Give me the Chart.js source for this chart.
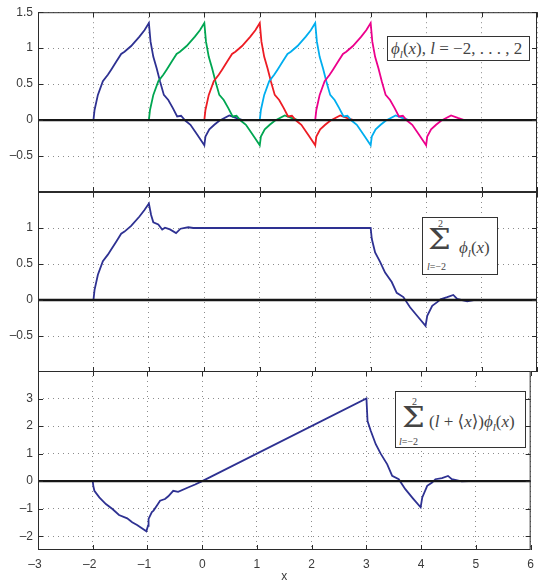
<!DOCTYPE html>
<html><head><meta charset="utf-8">
<script src="https://cdn.jsdelivr.net/npm/chart.js@4.4.0/dist/chart.umd.min.js"></script>
<style>
html,body{margin:0;padding:0;background:#fff;}
#wrap{position:relative;width:541px;height:584px;overflow:hidden;background:#fff;}
canvas{position:absolute;left:0;top:0;}
.lg{position:absolute;z-index:5;background:#fff;border:1px solid #333;box-sizing:border-box;font-family:"Liberation Serif","Times New Roman","DejaVu Serif",serif;color:#444;}
.lg span{position:absolute;white-space:nowrap;line-height:1;}
.it{font-style:italic;}
.sub{font-size:11px;position:relative;top:4px;font-style:italic;}
.sig{font-family:"DejaVu Serif",serif;transform-origin:0 0;transform:scale(1.15,1);}
</style></head>
<body><div id="wrap">
<canvas id="c1" width="541" height="584"></canvas>
<canvas id="c2" width="541" height="584"></canvas>
<canvas id="c3" width="541" height="584"></canvas>
<div class="lg" style="left:387px;top:36px;width:143px;height:25px;">
  <span style="left:3px;top:3px;font-size:17px;"><span class="it" style="position:static">ϕ</span><span class="sub" style="position:relative">l</span>(<span class="it" style="position:static">x</span>), <span class="it" style="position:static">l</span> = −2, . . . , 2</span>
</div>
<div class="lg" style="left:422px;top:217px;width:76px;height:58px;">
  <span style="left:15px;top:1px;font-size:10px;">2</span>
  <span class="sig" style="left:5px;top:8px;font-size:28px;">Σ</span>
  <span style="left:4px;top:44px;font-size:10px;"><span class="it" style="position:static">l</span>=−2</span>
  <span style="left:36px;top:21px;font-size:17px;"><span class="it" style="position:static">ϕ</span><span class="sub" style="position:relative">l</span>(<span class="it" style="position:static">x</span>)</span>
</div>
<div class="lg" style="left:395px;top:391px;width:131px;height:57px;">
  <span style="left:16px;top:5px;font-size:10px;">2</span>
  <span class="sig" style="left:6px;top:12px;font-size:28px;">Σ</span>
  <span style="left:3px;top:45px;font-size:10px;"><span class="it" style="position:static">l</span>=−2</span>
  <span style="left:33px;top:21px;font-size:17px;">(<span class="it" style="position:static">l</span> + ⟨<span class="it" style="position:static">x</span>⟩)<span class="it" style="position:static">ϕ</span><span class="sub" style="position:relative">l</span>(<span class="it" style="position:static">x</span>)</span>
</div>
</div>
<script>
// ---- data ----
const xTicks = [-3, -2, -1, 0, 1, 2, 3, 4, 5, 6];
const yTicksTop = [-0.5, 0, 0.5, 1, 1.5];
const yTicksMid = [-0.5, 0, 0.5, 1];
const yTicksBot = [-2, -1, 0, 1, 2, 3];

// phi_l(x) values (same shape for every l)
const phiY = [0, 0, 0.14, 0.35, 0.54, 0.63, 0.70, 0.81, 0.92, 0.95, 1.03, 1.16, 1.25, 1.35, 1.09, 0.88, 0.72, 0.54, 0.35, 0.28, 0.17, 0.05, 0.06, -0.01, -0.065, -0.20, -0.35, -0.23, -0.13, -0.065, -0.01, 0.065, 0.03, 0, 0];
const phiXm2 = [-3, -2, -1.98, -1.92, -1.83, -1.74, -1.68, -1.59, -1.5, -1.44, -1.32, -1.17, -1.08, -1, -0.97, -0.92, -0.86, -0.8, -0.73, -0.65, -0.57, -0.49, -0.42, -0.34, -0.25, -0.13, 0, 0.02, 0.09, 0.18, 0.27, 0.45, 0.57, 0.69, 6];
const phiXm1 = [-3, -1, -0.98, -0.92, -0.83, -0.74, -0.68, -0.59, -0.5, -0.44, -0.32, -0.17, -0.08, 0, 0.03, 0.08, 0.14, 0.2, 0.27, 0.35, 0.43, 0.51, 0.58, 0.66, 0.75, 0.87, 1, 1.02, 1.09, 1.18, 1.27, 1.45, 1.57, 1.69, 6];
const phiX0 = [-3, 0, 0.02, 0.08, 0.17, 0.26, 0.32, 0.41, 0.5, 0.56, 0.68, 0.83, 0.92, 1, 1.03, 1.08, 1.14, 1.2, 1.27, 1.35, 1.43, 1.51, 1.58, 1.66, 1.75, 1.87, 2, 2.02, 2.09, 2.18, 2.27, 2.45, 2.57, 2.69, 6];
const phiX1 = [-3, 1, 1.02, 1.08, 1.17, 1.26, 1.32, 1.41, 1.5, 1.56, 1.68, 1.83, 1.92, 2, 2.03, 2.08, 2.14, 2.2, 2.27, 2.35, 2.43, 2.51, 2.58, 2.66, 2.75, 2.87, 3, 3.02, 3.09, 3.18, 3.27, 3.45, 3.57, 3.69, 6];
const phiX2 = [-3, 2, 2.02, 2.08, 2.17, 2.26, 2.32, 2.41, 2.5, 2.56, 2.68, 2.83, 2.92, 3, 3.03, 3.08, 3.14, 3.2, 3.27, 3.35, 3.43, 3.51, 3.58, 3.66, 3.75, 3.87, 4, 4.02, 4.09, 4.18, 4.27, 4.45, 4.57, 4.69, 6];

// sum_l phi_l(x)
const sumX = [-3, -2, -1.98, -1.92, -1.83, -1.74, -1.68, -1.59, -1.5, -1.44, -1.32, -1.17, -1.08, -1, -0.96, -0.92, -0.83, -0.76, -0.71, -0.62, -0.51, -0.43, -0.29, -0.2, 3, 3.02, 3.08, 3.17, 3.26, 3.38, 3.47, 3.59, 3.71, 3.86, 3.99, 4.02, 4.11, 4.2, 4.26, 4.38, 4.49, 4.56, 4.74, 4.86, 6];
const sumY = [0, 0, 0.14, 0.35, 0.54, 0.63, 0.70, 0.81, 0.92, 0.95, 1.03, 1.16, 1.25, 1.34, 1.18, 1.08, 1.05, 0.98, 1.005, 0.98, 0.93, 0.99, 1.01, 1.0, 1.0, 0.85, 0.66, 0.53, 0.38, 0.25, 0.10, 0.04, -0.10, -0.24, -0.36, -0.22, -0.08, -0.03, 0.01, 0.04, 0.07, 0.015, -0.02, 0, 0];

// sum_l (l + <x>) phi_l(x)
const wX = [-3, -2, -1.99, -1.97, -1.88, -1.76, -1.64, -1.52, -1.37, -1.28, -1.19, -1.02, -0.99, -0.98, -0.92, -0.89, -0.83, -0.77, -0.68, -0.62, -0.53, -0.44, -0.26, -0.13, 0, 3, 3.02, 3.08, 3.17, 3.26, 3.38, 3.47, 3.59, 3.71, 3.86, 3.99, 4.02, 4.11, 4.2, 4.26, 4.38, 4.49, 4.56, 4.74, 4.86, 6];
const wY = [0, 0, -0.17, -0.35, -0.59, -0.83, -1.01, -1.23, -1.35, -1.49, -1.59, -1.82, -1.62, -1.37, -1.12, -1.07, -0.89, -0.71, -0.65, -0.55, -0.35, -0.39, -0.23, -0.12, 0, 3, 2.18, 1.82, 1.34, 1.0, 0.61, 0.19, 0.07, -0.29, -0.65, -0.95, -0.59, -0.17, -0.05, 0.07, 0.11, 0.19, 0.07, -0.01, 0, 0];

const zeroX = [-3, 6];
const zeroY = [0, 0];

// ---- helpers ----
const pts = (xs, ys) => xs.map((x, i) => ({ x: x, y: ys[i] }));
const fmt = v => (v < 0 ? '\u2013' + String(Math.abs(v)) : String(v));
const tickFont = { family: '"Liberation Sans", Arial, Helvetica, sans-serif', size: 12 };
const tickColor = '#3a3a3a';

const boxPlugin = {
  id: 'box',
  afterDraw(chart) {
    const { ctx, chartArea: a } = chart;
    const xs = chart.scales.x, ys = chart.scales.y;
    ctx.save();
    ctx.strokeStyle = '#2b2b2b';
    ctx.lineWidth = 1;
    ctx.strokeRect(a.left + 0.5, a.top + 0.5, a.right - a.left - 1, a.bottom - a.top - 1);
    ctx.beginPath();
    xs.ticks.forEach(t => {
      const p = Math.round(xs.getPixelForValue(t.value)) + 0.5;
      ctx.moveTo(p, a.top); ctx.lineTo(p, a.top + 5);
      ctx.moveTo(p, a.bottom); ctx.lineTo(p, a.bottom - 5);
    });
    ys.ticks.forEach(t => {
      const p = Math.round(ys.getPixelForValue(t.value)) + 0.5;
      ctx.moveTo(a.left, p); ctx.lineTo(a.left + 5, p);
      ctx.moveTo(a.right, p); ctx.lineTo(a.right - 5, p);
    });
    ctx.stroke();
    ctx.restore();
  }
};

function line(xs, ys, color, width, order) {
  return { data: pts(xs, ys), borderColor: color, borderWidth: width, pointRadius: 0, fill: false, tension: 0, order: order };
}

function makeChart(id, padTop, padBottom, yMin, yMax, yTicks, datasets, bottom) {
  return new Chart(document.getElementById(id), {
    type: 'line',
    data: { datasets: datasets },
    plugins: [boxPlugin],
    options: {
      responsive: false,
      animation: false,
      layout: { padding: { top: padTop, bottom: padBottom, left: 0, right: 4 } },
      plugins: { legend: { display: false }, tooltip: { enabled: false } },
      scales: {
        x: {
          type: 'linear', min: -3, max: 6,
          afterBuildTicks: s => { s.ticks = xTicks.map(v => ({ value: v })); },
          afterFit: s => { s.height = bottom ? 34 : 0; },
          grid: { color: '#8c8c8c', lineWidth: 1, drawTicks: false, borderDash: [1, 4] },
          border: { display: false, dash: [1, 4] },
          ticks: { display: bottom, font: tickFont, color: tickColor, padding: 7, maxRotation: 0,
                   callback: v => (v < 0 ? fmt(v) + '\u2002' : fmt(v)) },
          title: { display: bottom, text: 'x', font: tickFont, color: tickColor, padding: { top: 0, bottom: 0 } }
        },
        y: {
          type: 'linear', min: yMin, max: yMax,
          afterBuildTicks: s => { s.ticks = yTicks.map(v => ({ value: v })); },
          afterFit: s => { s.width = 38; },
          grid: { color: '#8c8c8c', lineWidth: 1, drawTicks: false, borderDash: [1, 4] },
          border: { display: false, dash: [1, 4] },
          ticks: { font: tickFont, color: tickColor, padding: 5, callback: v => fmt(v) }
        }
      }
    }
  });
}

const blue = '#2e3192', green = '#00a651', red = '#ed1c24', cyan = '#00aeef', magenta = '#ec008c';

makeChart('c1', 12, 392, -1, 1.5, yTicksTop, [
  line(zeroX, zeroY, '#161616', 2.3, -1),
  line(phiXm2, phiY, blue, 1.8, 5),
  line(phiXm1, phiY, green, 1.8, 4),
  line(phiX0, phiY, red, 1.8, 3),
  line(phiX1, phiY, cyan, 1.8, 2),
  line(phiX2, phiY, magenta, 1.8, 1)
], false);

makeChart('c2', 192, 212, -1, 1.5, yTicksMid, [
  line(zeroX, zeroY, '#161616', 2.3, -1),
  line(sumX, sumY, blue, 1.8, 1)
], false);

makeChart('c3', 371, 0, -2.5, 4, yTicksBot, [
  line(zeroX, zeroY, '#161616', 2.3, -1),
  line(wX, wY, blue, 1.8, 1)
], true);
</script>
</body></html>
